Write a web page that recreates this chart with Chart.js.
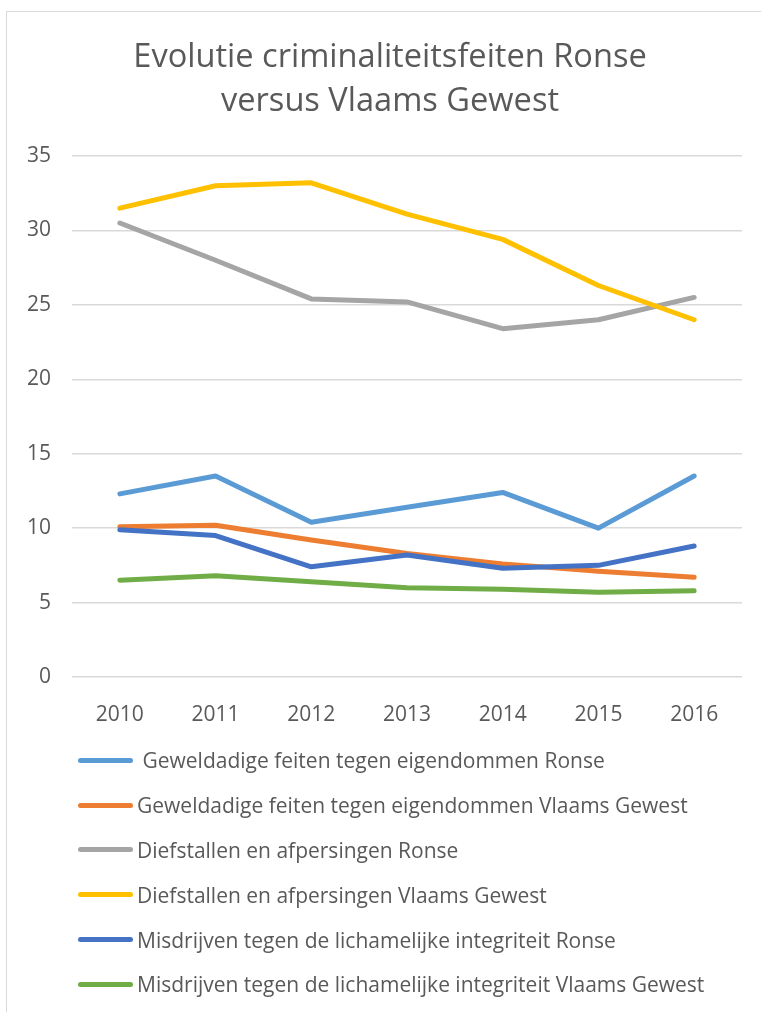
<!DOCTYPE html>
<html lang="nl">
<head>
<meta charset="utf-8">
<title>Evolutie criminaliteitsfeiten Ronse versus Vlaams Gewest</title>
<script src="https://cdn.jsdelivr.net/npm/chart.js@4"></script>
<style>
    body { margin: 0; background: #fff; font-family: 'Open Sans', sans-serif; }
    #wrap { position: relative; width: 761px; height: 1012px; overflow: hidden; }
    #kader { position: absolute; left: 6px; top: 11px; width: 800px; height: 1100px; border: 1px solid #d9d9d9; }
    #grafiek { position: absolute; left: 0; top: 0; }
    #legende { position: absolute; left: 78px; top: 738px; }
    .item { display: flex; align-items: center; height: 44.8px; }
    .lijn { width: 55px; height: 5px; border-radius: 3px; }
    .tekst { margin-left: 4px; font-size: 21px; color: #595959; white-space: pre; }
</style>
</head>
<body>
<div id="wrap">
    <div id="kader"></div>
    <canvas id="grafiek" width="761" height="740"></canvas>
    <div id="legende"></div>
</div>
<script>
const jaren = ['2010', '2011', '2012', '2013', '2014', '2015', '2016'];

const titel = ['Evolutie criminaliteitsfeiten Ronse', 'versus Vlaams Gewest'];

const reeksNamen = [
    ' Geweldadige feiten tegen eigendommen Ronse',
    'Geweldadige feiten tegen eigendommen Vlaams Gewest',
    'Diefstallen en afpersingen Ronse',
    'Diefstallen en afpersingen Vlaams Gewest',
    'Misdrijven tegen de lichamelijke integriteit Ronse',
    'Misdrijven tegen de lichamelijke integriteit Vlaams Gewest'
];

// waarden
const geweldRonse = [12.3, 13.5, 10.4, 11.4, 12.4, 10.0, 13.5];
const geweldVlaanderen = [10.1, 10.2, 9.2, 8.3, 7.6, 7.1, 6.7];
const diefstalRonse = [30.5, 28.0, 25.4, 25.2, 23.4, 24.0, 25.5];
const diefstalVlaanderen = [31.5, 33.0, 33.2, 31.1, 29.4, 26.3, 24.0];
const integriteitRonse = [9.9, 9.5, 7.4, 8.2, 7.3, 7.5, 8.8];
const integriteitVlaanderen = [6.5, 6.8, 6.4, 6.0, 5.9, 5.7, 5.8];

const reeksen = [geweldRonse, geweldVlaanderen, diefstalRonse, diefstalVlaanderen, integriteitRonse, integriteitVlaanderen];
const kleuren = ['#5B9BD5', '#ED7D31', '#A5A5A5', '#FFC000', '#4472C4', '#70AD47'];

const tekstKleur = '#595959';

// datasets opbouwen (laatste reeks bovenaan, zoals in Excel)
const datasets = reeksen.map((waarden, i) => ({
    label: reeksNamen[i],
    data: waarden,
    borderColor: kleuren[i],
    backgroundColor: kleuren[i],
    borderWidth: 5,
    borderCapStyle: 'round',
    borderJoinStyle: 'round',
    pointRadius: 0,
    tension: 0,
    order: reeksen.length - i
}));

new Chart(document.getElementById('grafiek'), {
    type: 'line',
    data: { labels: jaren, datasets: datasets },
    options: {
        responsive: false,
        animation: false,
        // links/rechts zo gekozen dat de titel op x ~390 centreert
        layout: { padding: { top: 0, right: 7, bottom: 0, left: 26 } },
        plugins: {
            legend: { display: false },
            tooltip: { enabled: false },
            title: {
                display: true,
                text: titel,
                color: tekstKleur,
                font: { family: 'Open Sans', size: 32.6, weight: 'normal', lineHeight: 1.35 },
                padding: { top: 36, bottom: 32 }
            }
        },
        scales: {
            x: {
                offset: true,
                grid: { display: false },
                border: { display: false },
                ticks: { color: tekstKleur, font: { family: 'Open Sans', size: 21 }, padding: 17, maxRotation: 0 },
                afterFit: (s) => { s.height = 63; }
            },
            y: {
                min: 0,
                max: 35,
                grid: { color: '#d9d9d9', lineWidth: 1.5, drawTicks: false },
                border: { display: false },
                ticks: { stepSize: 5, color: tekstKleur, font: { family: 'Open Sans', size: 21 }, padding: 21 },
                afterFit: (s) => { s.width = 46; }
            },
            // lege as rechts, alleen als marge
            marge: {
                position: 'right',
                grid: { display: false },
                border: { display: false },
                ticks: { display: false },
                afterFit: (s) => { s.width = 12; }
            }
        }
    }
});

// legende als lijst onder de grafiek
const legende = document.getElementById('legende');
reeksNamen.forEach((naam, i) => {
    const rij = document.createElement('div');
    rij.className = 'item';
    rij.innerHTML = `<span class="lijn" style="background:${kleuren[i]}"></span><span class="tekst">${naam}</span>`;
    legende.appendChild(rij);
});
</script>
</body>
</html>
